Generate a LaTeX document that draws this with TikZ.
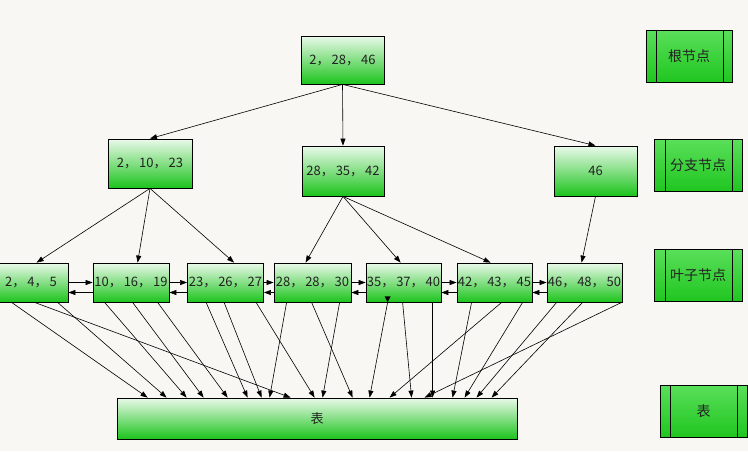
\documentclass[tikz,border=0pt]{standalone}
\usepackage{fontspec}
\setmainfont{Noto Sans CJK SC}
\usetikzlibrary{arrows.meta}
\definecolor{bg}{HTML}{F9F7F3}
\definecolor{gtop}{HTML}{EAF9EA}
\definecolor{gmid}{HTML}{86E286}
\definecolor{gbot}{HTML}{1CC41C}
\definecolor{ltop}{HTML}{5ADF5A}
\definecolor{lbot}{HTML}{20C620}
\definecolor{txt}{HTML}{222222}
\newcommand\zc{，\hspace{2pt}}
\begin{document}
\begin{tikzpicture}[x=1pt,y=-1pt,
  box/.style={draw=black, line width=0.8pt, top color=gtop, middle color=gmid, bottom color=gbot,
    inner sep=0pt, text=txt, font=\fontsize{13}{13}\selectfont},
  leaf/.style={box, minimum width=76pt, minimum height=39pt},
  legend/.style={draw=black, line width=0.8pt, top color=ltop, bottom color=lbot,
    inner sep=0pt, text=txt, font=\fontsize{14}{14}\selectfont, minimum height=52pt},
  arr/.style={-{Triangle[length=7pt,width=5pt]}, line width=0.6pt, black}]
\useasboundingbox (0,0) rectangle (748,451);
\fill[bg] (0,0) rectangle (748,451);

% root and branches
\node[box, minimum width=83pt, minimum height=48pt] (root) at (342.5,60) {2\zc 28\zc 46};
\node[box, minimum width=84pt, minimum height=49pt] (b1) at (150,163.5) {2\zc 10\zc 23};
\node[box, minimum width=82pt, minimum height=50pt] (b2) at (343,171) {28\zc 35\zc 42};
\node[box, minimum width=83pt, minimum height=50pt] (b3) at (595.5,171) {46};

% leaves
\node[leaf, minimum width=74pt] (l1) at (31,282.5) {2\zc 4\zc 5};
\node[leaf] (l2) at (131,282.5) {10\zc 16\zc 19};
\node[leaf] (l3) at (225.5,282.5) {23\zc 26\zc 27};
\node[leaf, minimum width=77pt] (l4) at (312.5,282.5) {28\zc 28\zc 30};
\node[leaf, minimum width=75pt] (l5) at (403.5,282.5) {35\zc 37\zc 40};
\node[leaf, minimum width=75pt] (l6) at (494.5,282.5) {42\zc 43\zc 45};
\node[leaf, minimum width=75pt] (l7) at (584.5,282.5) {46\zc 48\zc 50};

% table
\node[box, minimum width=400pt, minimum height=41pt] (tbl) at (317,418.5) {表};

% legend
\node[legend, minimum width=86pt] (g1) at (689,56) {根节点};
\node[legend, minimum width=88pt] (g2) at (698,165) {分支节点};
\node[legend, minimum width=88pt] (g3) at (698,275) {叶子节点};
\node[legend, minimum width=87pt] (g4) at (703.5,411) {表};
\foreach \n/\a/\b in {g1/11/9, g2/12/10, g3/12/10, g4/11/10}{
  \draw[line width=0.8pt] ([xshift=\a pt]\n.north west) -- ([xshift=\a pt]\n.south west);
  \draw[line width=0.8pt] ([xshift=-\b pt]\n.north east) -- ([xshift=-\b pt]\n.south east);
}

% root to branches
\draw[arr] (root.south) -- (b1.north);
\draw[arr] (root.south) -- (b2.north);
\draw[arr] (root.south) -- (b3.north);

% branches to leaves
\draw[arr] (b1.south) -- ([xshift=43pt]l1.north west);
\draw[arr] (b1.south) -- ([xshift=45pt]l2.north west);
\draw[arr] (b1.south) -- ([xshift=47pt]l3.north west);
\draw[arr] (b2.south) -- ([xshift=32pt]l4.north west);
\draw[arr] (b2.south) -- ([xshift=35pt]l5.north west);
\draw[arr] (b2.south) -- ([xshift=34pt]l6.north west);
\draw[arr] (b3.south) -- ([xshift=35pt]l7.north west);

% leaf links
\foreach \p/\q in {l1/l2, l2/l3, l3/l4, l4/l5, l5/l6, l6/l7}{
  \draw[arr] (\p.east) -- (\q.west);
  \draw[arr] ([yshift=-10pt]\q.west) -- ([yshift=-10pt]\p.east);
}

% leaves to table
\foreach \n/\s/\e in {l1/18/31, l1/41/174, l1/64/50,
                      l2/12/70, l2/40/87, l2/65/111,
                      l3/19/131, l3/37/145, l3/69/198,
                      l4/13/153, l4/38/236, l4/66/206,
                      l5/22/253, l5/37/295, l5/67/316,
                      l6/15/336, l6/66/348, l6/45/273,
                      l7/10/360, l7/36/375, l7/75/308}{
  \draw[arr] ([xshift=\s pt]\n.south west) -- ([xshift=\e pt]tbl.north west);
}
% small downward triangle at the bottom of leaf 35,37,40
\fill ([xshift=19pt,yshift=6pt]l5.south west) -- ([xshift=25pt,yshift=6pt]l5.south west)
  -- ([xshift=22pt]l5.south west) -- cycle;
\end{tikzpicture}
\end{document}
